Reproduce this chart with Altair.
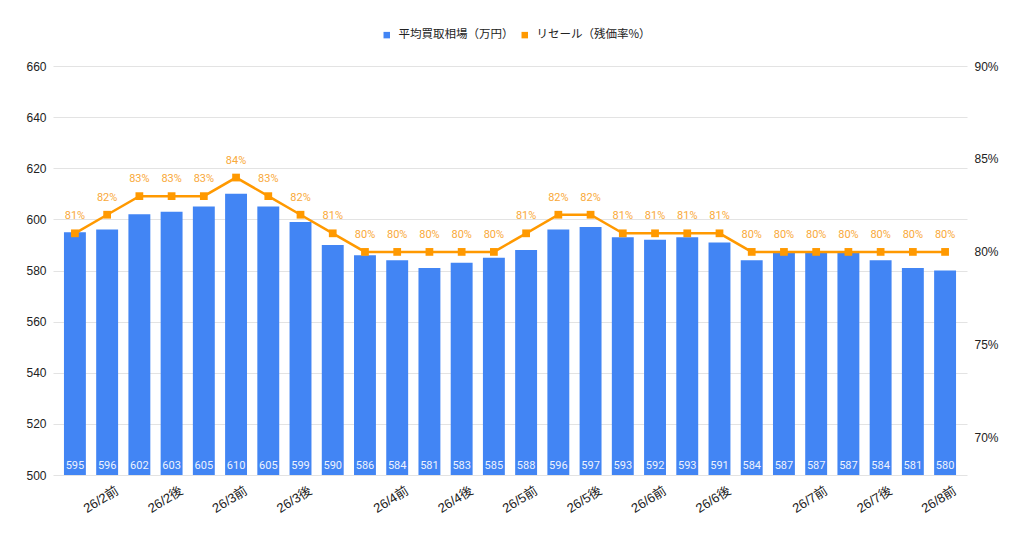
import json

import altair as alt
import pandas as pd

# x labels (only every other-ish period is labelled in the source)
periods = [
    "", "26/2前", "", "26/2後", "", "26/3前", "", "26/3後", "", "",
    "26/4前", "", "26/4後", "", "26/5前", "", "26/5後", "", "26/6前", "",
    "26/6後", "", "", "26/7前", "", "26/7後", "", "26/8前",
]
price = [
    595, 596, 602, 603, 605, 610, 605, 599, 590, 586,
    584, 581, 583, 585, 588, 596, 597, 593, 592, 593,
    591, 584, 587, 587, 587, 584, 581, 580,
]
resale = [
    81, 82, 83, 83, 83, 84, 83, 82, 81, 80,
    80, 80, 80, 80, 81, 82, 82, 81, 81, 81,
    81, 80, 80, 80, 80, 80, 80, 80,
]
left_ticks = [500, 520, 540, 560, 580, 600, 620, 640, 660]
right_ticks = [70, 75, 80, 85, 90]

SERIES = ["平均買取相場（万円）", "リセール（残価率%）"]
BLUE = "#4285f4"
ORANGE = "#ff9900"
FONT = "Liberation Sans, Noto Sans CJK JP"

df = pd.DataFrame({"idx": range(len(price)), "price": price, "resale": resale})

label_expr = json.dumps(periods, ensure_ascii=False) + "[datum.value]"
x = alt.X(
    "idx:O",
    title=None,
    scale=alt.Scale(paddingInner=0.32, paddingOuter=0.34),
    axis=alt.Axis(
        labelExpr=label_expr, labelAngle=-32, labelFontSize=13, labelColor="#222222",
        labelPadding=9, labelOffset=7, labelFont=FONT, domain=False, ticks=False,
    ),
)
color = alt.Color(
    "series:N",
    scale=alt.Scale(domain=SERIES, range=[BLUE, ORANGE]),
    legend=alt.Legend(
        title=None, orient="none", direction="horizontal", legendX=328, legendY=-37,
        symbolType="square", symbolSize=42, labelFontSize=11.5, labelColor="#222222",
        labelFont="Noto Sans CJK JP", columnPadding=5, labelOffset=6,
    ),
)

y_left = alt.Y(
    "price:Q",
    title=None,
    scale=alt.Scale(domain=[500, 660], nice=False, zero=False),
    axis=alt.Axis(
        values=left_ticks, labelFontSize=12, labelColor="#222222", labelFont=FONT,
        labelPadding=7, domain=False, ticks=False, gridColor="#e3e3e3",
    ),
)

bars = (
    alt.Chart(df)
    .transform_calculate(series=f"'{SERIES[0]}'")
    .mark_bar(color=BLUE)
    .encode(x=x, y=y_left, y2=alt.datum(500), color=color)
)
bar_text = (
    alt.Chart(df)
    .mark_text(dy=-9, color="#eef3fe", fontSize=11, font="Roboto")
    .encode(x=x, y=alt.datum(500), text="price:Q")
)

y_right = alt.Y(
    "resale:Q",
    title=None,
    scale=alt.Scale(domain=[68, 90], nice=False, zero=False),
    axis=alt.Axis(
        orient="right", values=right_ticks, labelExpr="datum.value + '%'",
        labelFontSize=12, labelColor="#222222", labelFont=FONT, labelPadding=7,
        domain=False, ticks=False, grid=False,
    ),
)

line_base = alt.Chart(df).transform_calculate(
    series=f"'{SERIES[1]}'", lab="datum.resale + '%'"
)
line = line_base.mark_line(color=ORANGE, strokeWidth=2.5).encode(x=x, y=y_right)
points = line_base.mark_point(shape="square", filled=True, size=60, opacity=1).encode(
    x=x, y=y_right, color=color
)
line_text = line_base.mark_text(dy=-17, color="#f9a93a", fontSize=11, font="Roboto").encode(
    x=x, y=y_right, text="lab:N"
)

chart = (
    alt.layer(
        alt.layer(bars, bar_text),
        alt.layer(line, points, line_text),
    )
    .resolve_scale(y="independent")
    .properties(
        width=914,
        height=409,
        autosize=alt.AutoSizeParams(type="none"),
        padding={"left": 45, "top": 58, "right": 49, "bottom": 45},
    )
    .configure_view(stroke=None)
)

chart.save("out.html", embed_options={"renderer": "svg", "actions": False})
